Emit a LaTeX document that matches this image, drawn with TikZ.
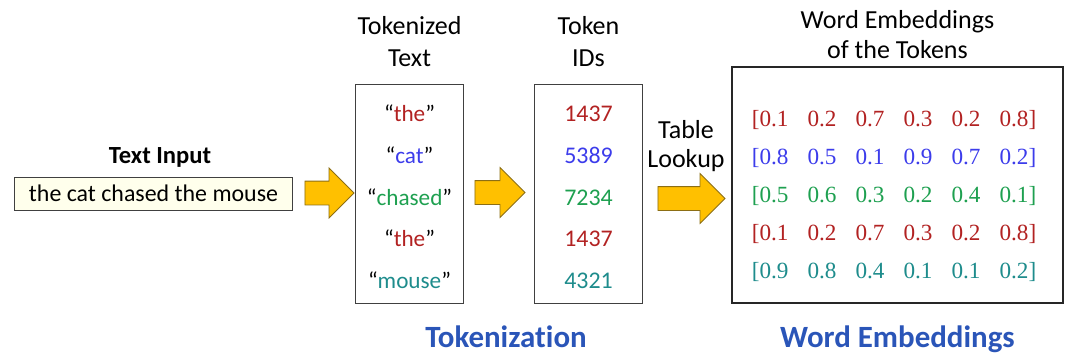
\documentclass[tikz,border=0pt]{standalone}
\usepackage{fontspec}
\setmainfont{Carlito}[Ligatures=NoCommon]
\newfontfamily\numfont{Liberation Serif}
\usepackage{xcolor}
\usetikzlibrary{shapes.arrows}
\definecolor{tokred}{RGB}{178,34,34}
\definecolor{tokblue}{RGB}{60,60,235}
\definecolor{tokgreen}{RGB}{30,160,80}
\definecolor{tokteal}{RGB}{30,140,140}
\definecolor{headblue}{RGB}{42,85,184}
\definecolor{arrowfill}{RGB}{255,192,0}
\definecolor{arrowline}{RGB}{140,110,20}
\definecolor{inputfill}{RGB}{255,255,236}

\begin{document}
\begin{tikzpicture}[x=0.025cm,y=-0.025cm,
  font=\fontsize{17}{22.7}\selectfont,
  listbox/.style={draw=black!75,line width=0.7pt,inner sep=0pt,minimum width=2.675cm,minimum height=5.45cm},
  yarrow/.style={single arrow,draw=arrowline,fill=arrowfill,line width=0.6pt,inner xsep=0pt,inner ysep=0.2875cm,
    single arrow head extend=0.325cm},
  title/.style={align=center,anchor=north,inner sep=0pt,font=\fontsize{18.5}{22.8}\selectfont},
  section/.style={anchor=base,text=headblue,font=\fontsize{22}{26}\selectfont\bfseries}]

\useasboundingbox (0,0) rectangle (1080,363);

% text input
\node[anchor=base,font=\fontsize{17.5}{20}\selectfont\bfseries] (inlabel) at (160,163) {Text Input};
\node[draw=black!75,fill=inputfill,line width=0.7pt,inner sep=0pt,
  minimum width=6.925cm,minimum height=0.825cm] (inbox) at (153.5,193.5) {the cat chased the mouse};
\node[yarrow,minimum height=1.225cm] (arrA) at (323.5,193) {};

% tokenized text
\node[title] (toktitle) at (409.5,16) {Tokenized\\Text};
\node[listbox] (tokbox) at (409.5,194) {};
\foreach \w/\c [count=\i] in {the/tokred,cat/tokblue,chased/tokgreen,the/tokred,mouse/tokteal}
  \node[anchor=base,font=\fontsize{16.5}{20}\selectfont] (tok\i) at (409.5,{121.5+41.8*(\i-1)}) {“\textcolor{\c}{\w}”};
\node[yarrow,minimum height=1.25cm] (arrB) at (494,192.5) {};

% token ids
\node[title] (idtitle) at (588.5,16) {Token\\IDs};
\node[listbox] (idbox) at (588.5,194) {};
\foreach \n/\c [count=\i] in {1437/tokred,5389/tokblue,7234/tokgreen,1437/tokred,4321/tokteal}
  \node[anchor=base,text=\c] (id\i) at (588.5,{121.5+41.8*(\i-1)}) {\n};

% table lookup
\node[title,font=\fontsize{18.5}{20.5}\selectfont] (lookup) at (686,120) {Table\\Lookup};
\node[yarrow,minimum height=1.675cm] (arrC) at (685.5,198.5) {};

% word embeddings
\node[title,font=\fontsize{18.5}{21.3}\selectfont] (embtitle) at (897.5,10) {Word Embeddings\\of the Tokens};
\node[draw=black!85,line width=1.4pt,inner sep=0pt,minimum width=8.275cm,minimum height=5.9cm] (embbox) at (897.5,185) {};
\foreach \row/\c [count=\r] in {{0.1,0.2,0.7,0.3,0.2,0.8}/tokred,{0.8,0.5,0.1,0.9,0.7,0.2}/tokblue,
    {0.5,0.6,0.3,0.2,0.4,0.1}/tokgreen,{0.1,0.2,0.7,0.3,0.2,0.8}/tokred,{0.9,0.8,0.4,0.1,0.1,0.2}/tokteal}
  \foreach \v [count=\k] in \row
    \node[anchor=base,text=\c,font=\fontsize{16.5}{20}\numfont] (emb-\r-\k) at ({774+48*(\k-1)},{126.5+38*(\r-1)})
      {\ifnum\k=1\llap{[}\fi\v\ifnum\k=6\rlap{]}\fi};

% section names
\node[section] (tokname) at (506,347) {Tokenization};
\node[section] (embname) at (897.5,347) {Word Embeddings};

\end{tikzpicture}
\end{document}
